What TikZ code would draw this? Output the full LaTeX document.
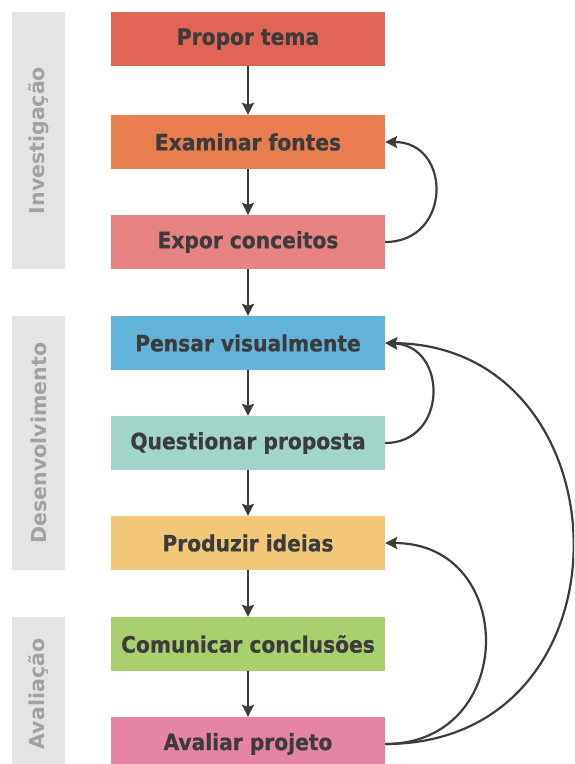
\documentclass[tikz,border=0pt]{standalone}
\usepackage{fontspec}
\usetikzlibrary{arrows.meta}
\newfontfamily\boxfont{DejaVu Sans Condensed}[BoldFeatures={FakeBold=0.6}]
\newfontfamily\sidefont{DejaVu Sans}

\definecolor{inkdark}{HTML}{3C3C3C}
\definecolor{sidegray}{HTML}{E3E4E3}
\definecolor{sidetext}{HTML}{A2A2A2}
\definecolor{cpropor}{HTML}{E06555}
\definecolor{cexaminar}{HTML}{E87D50}
\definecolor{cexpor}{HTML}{E88383}
\definecolor{cpensar}{HTML}{62B2D9}
\definecolor{cquestionar}{HTML}{A2D5CA}
\definecolor{cproduzir}{HTML}{F3C778}
\definecolor{ccomunicar}{HTML}{A9CF6E}
\definecolor{cavaliar}{HTML}{E685A3}

\tikzset{
  stage/.style={minimum width=274pt, minimum height=54pt, inner sep=0pt,
    text=inkdark, font=\boxfont\bfseries\fontsize{22.5}{26}\selectfont},
  phase/.style={fill=sidegray, minimum width=53pt, inner sep=0pt},
  phaselabel/.style={rotate=90, text=sidetext, font=\sidefont\bfseries\fontsize{20.5}{24}\selectfont},
  flow/.style={draw=inkdark, line width=2.2pt, -{Stealth[length=12pt,width=12pt,inset=2pt]}},
  loop/.style={draw=inkdark, line width=2.2pt, -{Stealth[length=12pt,width=12pt,inset=2pt]}},
}

\begin{document}
\begin{tikzpicture}[x=1pt,y=-1pt]
\useasboundingbox (0,0) rectangle (574,764);
\clip (0,0) rectangle (574,764);

% phase bars on the left
\node[phase, minimum height=257pt] (bar1) at (38.5,140.5) {};
\node[phase, minimum height=254pt] (bar2) at (38.5,443) {};
\node[phase, minimum height=160pt] (bar3) at (38.5,697) {};
\node[phaselabel] (lab1) at (bar1) {Investigação};
\node[phaselabel] (lab2) at (bar2) {Desenvolvimento};
\node[phaselabel] (lab3) at (38.5,694) {Avaliação};

% process stages
\node[stage, fill=cpropor]     (s1) at (248,39)  {Propor tema};
\node[stage, fill=cexaminar]   (s2) at (248,142) {Examinar fontes};
\node[stage, fill=cexpor]      (s3) at (248,242) {Expor conceitos};
\node[stage, fill=cpensar]     (s4) at (248,343) {Pensar visualmente};
\node[stage, fill=cquestionar] (s5) at (248,443) {Questionar proposta};
\node[stage, fill=cproduzir]   (s6) at (248,543) {Produzir ideias};
\node[stage, fill=ccomunicar]  (s7) at (248,644) {Comunicar conclusões};
\node[stage, fill=cavaliar]    (s8) at (248,744) {Avaliar projeto};

% main sequence
\foreach \a/\b in {s1/s2,s2/s3,s3/s4,s4/s5,s5/s6,s6/s7,s7/s8}
  \draw[flow] (\a.south) -- (\b.north);

% feedback loops
\draw[loop] (s3.east) .. controls (452,242) and (452,142) .. (s2.east);
\draw[loop] (s5.east) .. controls (448,443) and (448,346) .. (s4.east);
\draw[loop] (s8.east) .. controls (518,744) and (518,543) .. (s6.east);
\draw[loop] (s8.east) .. controls (640,744) and (630,346) .. (s4.east);
\end{tikzpicture}
\end{document}
